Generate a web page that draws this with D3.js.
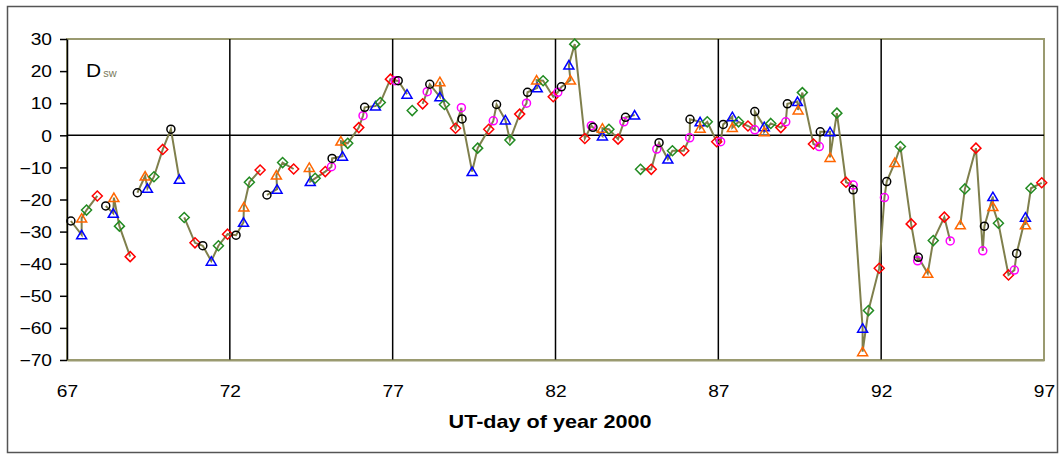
<!DOCTYPE html>
<meta charset="utf-8">
<head>
<style>
body { margin: 0; background: #fff; }
text { font-family: "Liberation Sans", Arial, sans-serif; }
</style>
</head>
<body>
<script src="https://cdn.jsdelivr.net/npm/d3@7"></script>
<svg id="chart" width="1060" height="455"></svg>
<script>

// UT-day, Dsw value and marker kind; null value = gap in the line
// k black circle, b blue triangle, o orange triangle, g green diamond, r red diamond, m magenta circle
var days = [
  67.12, 67.45, 67.45, 67.60, 67.93, null,
  68.19, 68.42, 68.44, 68.61, 68.94, null,
  69.16, 69.40, 69.47, 69.67, 69.94, 70.19, 70.45, null,
  70.60, 70.93, 71.17, 71.43, 71.65, 71.93, 72.19, 72.42, 72.43, 72.60, 72.93, null,
  73.14, 73.45, 73.43, 73.62, 73.96, null,
  74.44, 74.47, 74.62, 74.93, 75.12, 75.14, 75.46, 75.41, 75.62, 75.96,
  76.09, 76.14, 76.47, 76.62, 76.93, 77.08, 77.17, 77.44, null,
  77.60, null,
  77.92, 78.06, 78.14, 78.45, 78.45, 78.59, 78.93, 79.11, 79.13, 79.44, 79.61, 79.95,
  80.09, 80.19, 80.46, 80.60, 80.90, 81.11, 81.14, 81.44, 81.42, 81.62, 81.93,
  82.07, 82.18, 82.46, 82.41, 82.59, 82.90, 83.10, 83.15, 83.44, 83.44, 83.64, 83.92,
  84.10, 84.15, 84.43, null,
  84.61, 84.94, 85.11, 85.18, 85.45, 85.59, 85.94, 86.12, 86.13, 86.44, 86.44, 86.66, 86.95,
  87.07, 87.15, 87.43, 87.43, 87.62, 87.91, 88.12, 88.12, 88.41, 88.41, 88.61, 88.92,
  89.07, 89.12, 89.43, 89.45, 89.58, 89.92, 90.10, 90.13, 90.43, 90.43, 90.64, 90.92,
  91.14, 91.14, 91.43, 91.43, 91.61, 91.94, 92.10, 92.17, 92.42, 92.59, 92.92,
  93.12, 93.14, 93.43, 93.60, 93.94, 94.12, null,
  94.43, 94.57, 94.91, 95.12, 95.17, 95.43, 95.43, 95.60, 95.91,
  96.09, 96.16, 96.43, 96.43, 96.60, 96.93
];

var dsw = [
  -26.7, -31.0, -25.8, -23.3, -18.9, null,
  -22.0, -24.3, -19.4, -28.3, -37.8, null,
  -17.9, -12.7, -16.5, -12.9, -4.4, 1.9, -13.7, null,
  -25.6, -33.5, -34.4, -39.2, -34.4, -30.8, -31.1, -27.1, -22.3, -14.6, -10.8, null,
  -18.6, -16.8, -12.4, -8.5, -10.5, null,
  -10.0, -14.4, -13.4, -11.3, -9.8, -7.2, -6.5, -1.8, -2.5, 2.4,
  6.1, 8.7, 9.1, 10.2, 17.5, 17.0, 17.0, 12.8, null,
  7.7, null,
  9.8, 13.6, 15.9, 12.0, 16.7, 9.6, 2.2, 8.6, 5.1, -11.3, -4.0, 1.9,
  4.5, 9.6, 4.8, -1.5, 6.6, 10.0, 13.4, 14.8, 17.2, 17.0, 12.0,
  13.4, 15.1, 17.2, 21.9, 28.4, -1.0, 3.0, 2.5, -0.2, 2.2, 1.9, -1.2,
  4.2, 5.6, 6.3, null,
  -10.6, -10.6, -4.3, -2.3, -7.4, -4.8, -4.8, -0.8, 5.0, 4.2, 2.2, 4.2, -2.0,
  -2.0, 3.4, 5.8, 2.4, 4.2, 2.9, 1.7, 7.4, 2.7, 1.1, 3.7, 2.4,
  4.2, 9.8, 10.5, 7.9, 13.3, -2.7, -3.5, 1.1, 1.1, -6.9, 6.9, -14.6,
  -15.5, -17.0, -60.1, -67.4, -54.6, -41.4, -19.4, -14.4, -8.5, -3.5, -27.6,
  -39.1, -38.0, -43.0, -32.8, -25.5, -32.9, null,
  -27.9, -16.7, -4.0, -36.0, -28.3, -19.1, -22.2, -27.4, -43.5,
  -42.0, -36.8, -25.5, -27.9, -16.5, -14.8
];

var kinds = [
  "k","b","o","g","r", null,
  "k","b","o","g","r", null,
  "k","o","b","g","r","k","b", null,
  "g","r","k","b","g","r","k","b","o","g","r", null,
  "k","b","o","g","r", null,
  "o","b","g","r","m","k","b","o","g","r",
  "m","k","b","g","r","m","k","b", null,
  "g", null,
  "r","m","k","b","o","g","r","m","k","b","g","r",
  "m","k","b","g","r","m","k","b","o","g","r",
  "m","k","o","b","g","r","m","k","b","o","g","r",
  "m","k","b", null,
  "g","r","m","k","b","g","r","m","k","b","o","g","r",
  "m","k","b","o","g","r","m","k","b","o","g","r",
  "m","k","b","o","g","r","m","k","b","o","g","r",
  "m","k","b","o","g","r","m","k","o","g","r",
  "m","k","o","g","r","m", null,
  "o","g","r","m","k","b","o","g","r",
  "m","k","b","o","g","r"
];

var xTicks = [67, 72, 77, 82, 87, 92, 97];
var yTicks = [30, 20, 10, 0, -10, -20, -30, -40, -50, -60, -70];

var svg = d3.select("#chart"),
    margin = {top: 39, right: 16, bottom: 95, left: 67},
    width = +svg.attr("width") - margin.left - margin.right,
    height = +svg.attr("height") - margin.top - margin.bottom;

var stretch = 1.2;  // the original text is wider than plain Arial

// outer frame
svg.append("rect")
    .attr("x", 7.5).attr("y", 6.5)
    .attr("width", 1050).attr("height", 446)
    .attr("fill", "none")
    .attr("stroke", "#555")
    .attr("stroke-width", 1.5);

var g = svg.append("g").attr("transform", "translate(" + margin.left + "," + margin.top + ")");

var x = d3.scaleLinear().domain([67, 97]).range([0, width]);
var y = d3.scaleLinear().domain([-70, 30]).range([height, 0]);

// plot area border (olive)
g.append("rect")
    .attr("width", width).attr("height", height)
    .attr("fill", "none")
    .attr("stroke", "#9a9a70")
    .attr("stroke-width", 2);

// vertical grid lines
g.selectAll(".vgrid")
  .data(xTicks.slice(1, -1))
  .enter().append("line")
    .attr("class", "vgrid")
    .attr("x1", function(d) { return x(d); })
    .attr("x2", function(d) { return x(d); })
    .attr("y1", 0).attr("y2", height)
    .attr("stroke", "#000")
    .attr("stroke-width", 1.5);

// zero line
g.append("line")
    .attr("x1", 0).attr("x2", width)
    .attr("y1", y(0)).attr("y2", y(0))
    .attr("stroke", "#000")
    .attr("stroke-width", 1.5);

// y axis
var yAxis = g.append("g")
    .call(d3.axisLeft(y).tickValues(yTicks).tickSize(7).tickSizeOuter(0).tickPadding(0));
yAxis.select(".domain").attr("stroke", "#000").attr("stroke-width", 1.5);
yAxis.selectAll(".tick line").attr("stroke", "#000").attr("stroke-width", 1.5);
yAxis.selectAll(".tick text")
    .attr("x", -15 / stretch)
    .attr("dy", "0.36em")
    .attr("transform", "scale(" + stretch + ",1)")
    .attr("fill", "#000")
    .style("font-size", "16px");

// x axis labels
var xAxis = g.append("g")
    .attr("transform", "translate(0," + height + ")")
    .call(d3.axisBottom(x).tickValues(xTicks).tickSize(0).tickPadding(0));
xAxis.select(".domain").attr("stroke", "#9a9a70").attr("stroke-width", 2);
xAxis.selectAll(".tick text")
    .attr("y", 37)
    .attr("dy", 0)
    .attr("transform", "scale(" + stretch + ",1)")
    .attr("fill", "#000")
    .style("font-size", "16px");

// x axis title
svg.append("text")
    .attr("transform", "translate(550,428) scale(" + stretch + ",1)")
    .attr("text-anchor", "middle")
    .style("font-size", "18px")
    .style("font-weight", "bold")
    .text("UT-day of year 2000");

// series label
var lab = svg.append("text")
    .attr("transform", "translate(86,77) scale(1.1,1)")
    .style("font-size", "19px");
lab.append("tspan").text("D");
lab.append("tspan")
    .attr("dx", 2)
    .style("font-size", "10px")
    .attr("fill", "#7a7a5a")
    .text("sw");

// data
var data = days.map(function(d, i) {
  return {day: d, value: dsw[i], kind: kinds[i]};
});

var line = d3.line()
    .defined(function(d) { return d.value != null; })
    .x(function(d) { return x(d.day); })
    .y(function(d) { return y(d.value); });

g.append("path")
    .datum(data)
    .attr("fill", "none")
    .attr("stroke", "#7f7f4c")
    .attr("stroke-width", 2)
    .attr("d", line);

var colors = {k: "#000000", b: "#0000ff", o: "#ff6600", g: "#228b22", r: "#ff0000", m: "#ff00ff"};
var shapes = {
  k: "M4,0A4,4 0 1,1 -4,0A4,4 0 1,1 4,0Z",
  m: "M4,0A4,4 0 1,1 -4,0A4,4 0 1,1 4,0Z",
  b: "M0,-4.5L5,4L-5,4Z",
  o: "M0,-4.5L5,4L-5,4Z",
  g: "M0,-5L5,0L0,5L-5,0Z",
  r: "M0,-5L5,0L0,5L-5,0Z"
};

g.selectAll(".pt")
  .data(data.filter(function(d) { return d.value != null; }))
  .enter().append("path")
    .attr("class", "pt")
    .attr("transform", function(d) { return "translate(" + x(d.day) + "," + y(d.value) + ")"; })
    .attr("d", function(d) { return shapes[d.kind]; })
    .attr("fill", "none")
    .attr("stroke", function(d) { return colors[d.kind]; })
    .attr("stroke-width", 1.5);

</script>
</body>
</html>
